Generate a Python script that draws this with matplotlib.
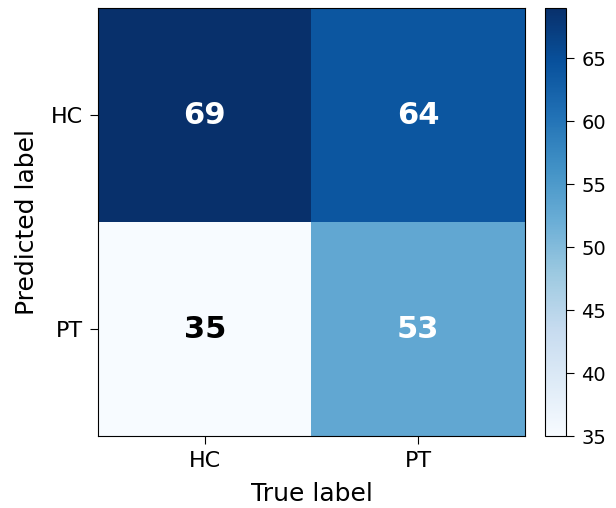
import numpy as np
import matplotlib.pyplot as plt

classes = ['HC', 'PT']
cm = np.array([[69, 64],
               [35, 53]])

fig = plt.figure(figsize=(6.16, 5.08), dpi=100)
ax = fig.add_axes([98/616, 1-436/508, 427/616, 428/508])
cax = fig.add_axes([545/616, 1-436/508, 21/616, 428/508])

im = ax.imshow(cm, interpolation='nearest', cmap=plt.cm.Blues, aspect='auto')
cb = fig.colorbar(im, cax=cax)
cb.ax.tick_params(labelsize=14, length=6, pad=5)

ax.set_xticks(np.arange(len(classes)))
ax.set_yticks(np.arange(len(classes)))
ax.set_xticklabels(classes, fontsize=16)
ax.set_yticklabels(classes, fontsize=16)
ax.tick_params(length=6, pad=5)
ax.set_xlabel('True label', fontsize=18, labelpad=8)
ax.set_ylabel('Predicted label', fontsize=18, labelpad=8)

thresh = 50
for i in range(cm.shape[0]):
    for j in range(cm.shape[1]):
        ax.text(j, i, str(cm[i, j]), ha='center', va='center',
                fontsize=22, fontweight='bold',
                color='white' if cm[i, j] > thresh else 'black')

fig.savefig('out.png', dpi=100)
